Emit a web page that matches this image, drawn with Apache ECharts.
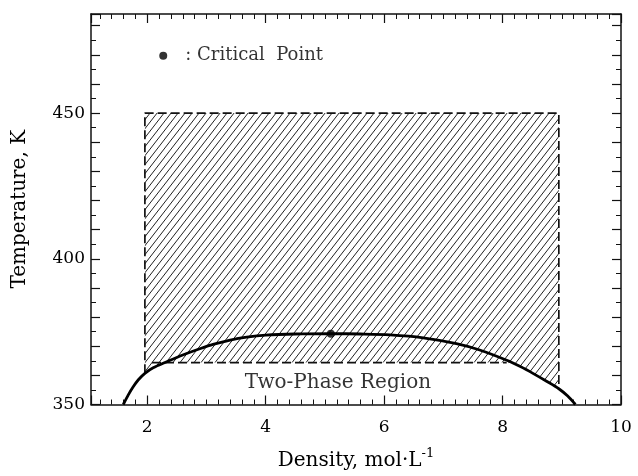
<!DOCTYPE html>
<html><head><meta charset="utf-8">
<script src="https://cdn.jsdelivr.net/npm/echarts@6/dist/echarts.min.js"></script>
<style>html,body{margin:0;padding:0;background:#fff}#c{width:638px;height:476px}</style>
</head><body><div id="c"></div>
<script>
// ---- data ----
const curveDensity = [1.595, 1.68, 1.76, 1.85, 1.96, 2.1, 2.32, 2.6, 2.9, 3.11, 3.4, 3.68, 4.0, 4.5, 5.1, 5.6, 6.1, 6.66, 7.22, 7.6, 8.07, 8.3, 8.52, 8.75, 8.95, 9.1, 9.23];
const curveTemp    = [350, 353.3, 356.0, 358.5, 360.7, 362.6, 364.6, 367.0, 369.2, 370.6, 372.1, 373.1, 373.8, 374.2, 374.3, 374.2, 373.9, 372.9, 370.9, 368.8, 365.2, 363.0, 360.6, 357.9, 355.4, 352.9, 350];
const criticalPoint = [5.10, 374.3];
const rectDensity = [1.96, 8.95];
const rectTopTemp = 450;
const dashDensity = [2.08, 8.07];
const dashTemp = 364.4;
const xTickLabels = [2, 4, 6, 8, 10];
const yTickLabels = [350, 400, 450];
const legendPoint = [2.27, 469.7];
const legendText = ': Critical  Point';
const regionLabelPoint = [5.22, 357.4];
const regionText = 'Two-Phase Region';

// ---- helpers ----
function curveAt(x) {
  for (let i = 0; i < curveDensity.length - 1; i++) {
    const a = curveDensity[i], b = curveDensity[i + 1];
    if (x >= a && x <= b) {
      const t = (x - a) / (b - a);
      return curveTemp[i] + t * (curveTemp[i + 1] - curveTemp[i]);
    }
  }
  return curveTemp[curveTemp.length - 1];
}
const leftBottom = curveAt(rectDensity[0]);
const rightBottom = curveAt(rectDensity[1]);

// hatched polygon: rectangle above min(curve, dashed line)
const hatchPoly = [[rectDensity[0], rectTopTemp], [rectDensity[1], rectTopTemp], [rectDensity[1], Math.min(rightBottom, dashTemp)]];
for (let i = curveDensity.length - 1; i >= 0; i--) {
  const x = curveDensity[i];
  if (x > rectDensity[0] && x < rectDensity[1]) hatchPoly.push([x, Math.min(curveTemp[i], dashTemp)]);
}
hatchPoly.push([rectDensity[0], Math.min(leftBottom, dashTemp)]);

function makeHatch() {
  const w = 7, h = 9;
  const c = document.createElement('canvas');
  c.width = w; c.height = h;
  const g = c.getContext('2d');
  g.strokeStyle = '#222'; g.lineWidth = 1.0;
  g.beginPath();
  for (let k = -1; k <= 1; k++) { g.moveTo(k * w, h); g.lineTo(k * w + w, 0); }
  g.stroke();
  return c;
}
const hatchCanvas = makeHatch();

const FONT = 'DejaVu Serif';
const INK = '#000';
const axisLineStyle = { color: '#111', width: 1.5 };

function xAxisCfg(pos, labels) {
  return {
    type: 'value', position: pos, min: 1.05, max: 10,
    axisLine: { show: true, onZero: false, lineStyle: axisLineStyle },
    axisTick: { show: true, inside: true, length: 9, lineStyle: { color: '#111', width: 1.2 } },
    minorTick: { show: true, splitNumber: 10, length: 5, lineStyle: { color: '#111', width: 1 } },
    splitLine: { show: false }, minorSplitLine: { show: false },
    axisLabel: labels ? {
      show: true, margin: 15, fontFamily: FONT, fontSize: 17, color: INK,
      formatter: v => xTickLabels.includes(v) ? String(v) : ''
    } : { show: false },
    name: labels ? 'Density, mol·L{sup|-1}' : '',
    nameLocation: 'middle', nameGap: 43,
    nameTextStyle: {
      fontFamily: FONT, fontSize: 20, color: INK, verticalAlign: 'top',
      rich: { sup: { fontFamily: FONT, fontSize: 13, color: INK, verticalAlign: 'bottom', padding: [0, 0, 14, 0] } }
    }
  };
}
function yAxisCfg(pos, labels) {
  return {
    type: 'value', position: pos, min: 350, max: 484, interval: 10,
    axisLine: { show: true, onZero: false, lineStyle: axisLineStyle },
    axisTick: { show: true, inside: true, length: 9, lineStyle: { color: '#111', width: 1.2 } },
    minorTick: { show: true, splitNumber: 2, length: 5, lineStyle: { color: '#111', width: 1 } },
    splitLine: { show: false }, minorSplitLine: { show: false },
    axisLabel: labels ? {
      show: true, margin: 6, fontFamily: FONT, fontSize: 17, color: INK,
      formatter: v => yTickLabels.includes(v) ? String(v) : ''
    } : { show: false },
    name: labels ? 'Temperature, K' : '',
    nameLocation: 'middle', nameGap: 61, nameRotate: 90,
    nameTextStyle: { fontFamily: FONT, fontSize: 20, color: INK }
  };
}

const chart = echarts.init(document.getElementById('c'), null, { renderer: 'canvas' });
chart.setOption({
  animation: false,
  backgroundColor: '#fff',
  grid: { left: 91, right: 17, top: 14, bottom: 65 },
  xAxis: [xAxisCfg('bottom', true), xAxisCfg('top', false)],
  yAxis: [yAxisCfg('left', true), yAxisCfg('right', false)],
  series: [
    {
      type: 'custom', xAxisIndex: 0, yAxisIndex: 0, silent: true, z: 1,
      data: [[rectDensity[0], rectTopTemp]],
      renderItem: function (params, api) {
        const pts = hatchPoly.map(p => api.coord(p));
        return { type: 'polygon', shape: { points: pts }, style: { fill: { image: hatchCanvas, repeat: 'repeat' }, stroke: null } };
      }
    },
    {
      type: 'line', xAxisIndex: 0, yAxisIndex: 0, symbol: 'none', z: 2,
      lineStyle: { color: '#111', width: 1.7, type: [9, 4] },
      data: [[rectDensity[0], leftBottom], [rectDensity[0], rectTopTemp], [rectDensity[1], rectTopTemp], [rectDensity[1], rightBottom]]
    },
    {
      type: 'line', xAxisIndex: 0, yAxisIndex: 0, symbol: 'none', z: 2,
      lineStyle: { color: '#111', width: 1.7, type: [9, 4] },
      data: [[dashDensity[0], dashTemp], [dashDensity[1], dashTemp]]
    },
    {
      type: 'line', xAxisIndex: 0, yAxisIndex: 0, symbol: 'none', z: 3, smooth: 0.3,
      lineStyle: { color: '#000', width: 2.8 },
      data: curveDensity.map((d, i) => [d, curveTemp[i]])
    },
    {
      type: 'scatter', xAxisIndex: 0, yAxisIndex: 0, z: 4, symbolSize: 8,
      itemStyle: { color: '#000' },
      data: [criticalPoint]
    },
    {
      type: 'scatter', xAxisIndex: 0, yAxisIndex: 0, z: 4, symbolSize: 8,
      itemStyle: { color: '#000' },
      label: { show: true, position: 'right', distance: 18, formatter: legendText, fontFamily: FONT, fontSize: 18, color: INK },
      data: [legendPoint]
    },
    {
      type: 'scatter', xAxisIndex: 0, yAxisIndex: 0, z: 4, symbolSize: 0,
      itemStyle: { color: 'transparent' },
      label: { show: true, position: 'inside', formatter: regionText, fontFamily: FONT, fontSize: 20, color: INK },
      data: [regionLabelPoint]
    }
  ]
});
</script>
</body></html>
